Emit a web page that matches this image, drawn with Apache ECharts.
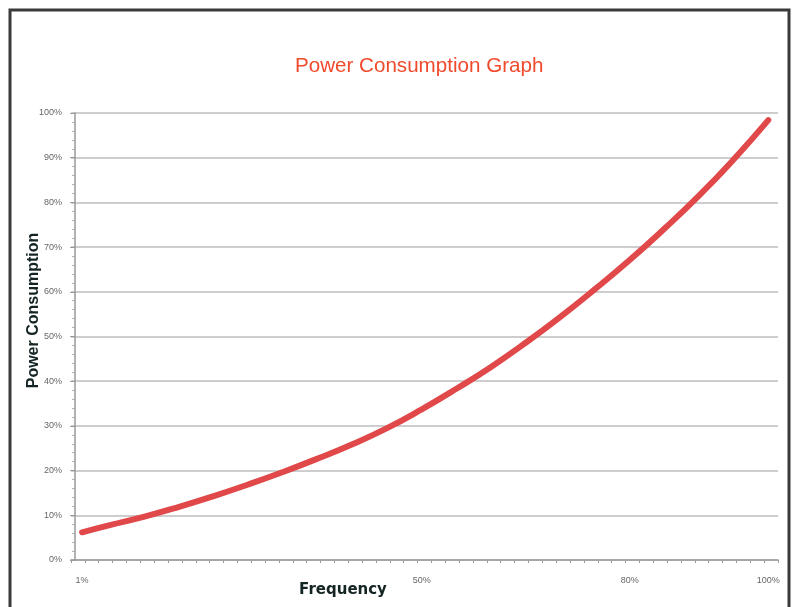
<!DOCTYPE html>
<html>
<head>
<meta charset="utf-8">
<script src="https://cdn.jsdelivr.net/npm/echarts@6/dist/echarts.min.js"></script>
<style>
html,body{margin:0;padding:0;background:#fff;}
#chart{width:797px;height:607px;}
</style>
</head>
<body>
<div id="chart"></div>
<script>
// Frequency (%) sample positions and power consumption (%)
var frequency = [1, 5, 10, 15, 20, 25, 30, 35, 40, 45, 50, 55, 60, 65, 70, 75, 80, 85, 90, 95, 100];
var powerConsumption = [6.2, 7.8, 9.7, 11.9, 14.3, 16.9, 19.7, 22.7, 25.9, 29.5, 33.7, 38.3, 43.2, 48.6, 54.4, 60.6, 67.1, 74.1, 81.5, 89.6, 98.4];
var xLabelValues = [1, 50, 80, 100];
var yTickLabels = ['0%','10%','20%','30%','40%','50%','60%','70%','80%','90%','100%'];

var xMin = -0.6, xMax = 101.4;
var xTickValues = [];
for (var t = xMin; t <= xMax + 1e-6; t += 2) xTickValues.push(+t.toFixed(2));

var chart = echarts.init(document.getElementById('chart'), null, {renderer: 'canvas'});
var option = {
  backgroundColor: '#ffffff',
  animation: false,
  title: {
    text: 'Power Consumption Graph',
    left: 290,
    top: 51,
    textStyle: {
      color: '#f04a2c',
      fontFamily: 'Liberation Sans, Arial, sans-serif',
      fontSize: 20.6,
      fontWeight: 'normal'
    }
  },
  grid: {left: 71, right: 19, top: 113, bottom: 47, containLabel: false},
  xAxis: {
    type: 'value',
    min: xMin,
    max: xMax,
    splitLine: {show: false},
    axisLine: {show: true, lineStyle: {color: '#9a9a9a', width: 1.5}},
    axisTick: {show: true, customValues: xTickValues, length: 3, lineStyle: {color: '#9a9a9a'}},
    axisLabel: {
      show: true,
      customValues: xLabelValues,
      margin: 16,
      color: '#666',
      fontSize: 9,
      fontFamily: 'Liberation Sans, Arial, sans-serif',
      formatter: function (v) { return Math.round(v) + '%'; }
    }
  },
  yAxis: {
    type: 'value',
    min: 0,
    max: 100,
    interval: 10,
    axisLine: {show: true, lineStyle: {color: '#9a9a9a', width: 1.5}},
    axisTick: {show: true, length: 5, lineStyle: {color: '#9a9a9a'}},
    minorTick: {show: true, splitNumber: 5, length: 3, lineStyle: {color: '#aaa'}},
    splitLine: {show: true, lineStyle: {color: '#bdbdbd', width: 1.5}},
    axisLabel: {
      margin: 9,
      color: '#666',
      fontSize: 9,
      fontFamily: 'Liberation Sans, Arial, sans-serif',
      formatter: function (v) { return yTickLabels[Math.round(v / 10)]; }
    }
  },
  graphic: [
    {
      type: 'rect',
      shape: {x: 10, y: 10, width: 779, height: 620},
      style: {fill: 'none', stroke: '#3a3a3a', lineWidth: 3},
      silent: true,
      z: 100
    },
    {
      type: 'text',
      x: 33.5,
      y: 310.5,
      rotation: Math.PI / 2,
      style: {
        text: 'Power Consumption',
        fill: '#142424',
        font: 'bold 16px "Liberation Sans", Arial, sans-serif',
        textAlign: 'center',
        textVerticalAlign: 'middle'
      },
      silent: true
    },
    {
      type: 'text',
      x: 343,
      y: 590,
      style: {
        text: 'Frequency',
        fill: '#142424',
        font: 'bold 15px "DejaVu Sans", "Liberation Sans", sans-serif',
        textAlign: 'center',
        textVerticalAlign: 'middle'
      },
      silent: true
    }
  ],
  series: [{
    type: 'line',
    data: frequency.map(function (f, i) { return [f, powerConsumption[i]]; }),
    smooth: true,
    showSymbol: false,
    lineStyle: {color: '#e0484a', width: 6, cap: 'round'},
    itemStyle: {color: '#e0484a'}
  }]
};
chart.setOption(option);
</script>
</body>
</html>
